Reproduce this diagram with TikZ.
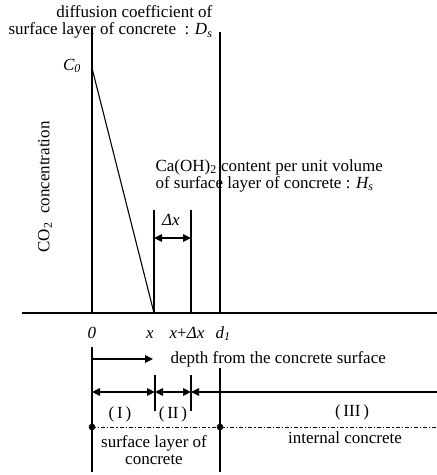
\documentclass[tikz,border=0pt]{standalone}
\usepackage{fontspec}
\setmainfont{Liberation Serif}
\usetikzlibrary{arrows.meta}

\begin{document}
\begin{tikzpicture}[
  x=1pt, y=-1pt,
  >={Triangle[length=8pt,width=7.5pt]},
  line width=1.2pt,
  lbl/.style={font=\fontsize{17}{17}\selectfont, inner sep=0pt},
  guide/.style={draw, line width=1.3pt},
  flow/.style={<->, draw, line width=1.2pt},
  zone/.style={draw, line width=0.9pt, dash pattern=on 4pt off 2pt on 1.2pt off 2pt}
]
  \useasboundingbox (0,0) rectangle (437,475);
  % points of the profile
  \coordinate (top0) at (92,28);
  \coordinate (c0) at (92,68);
  \coordinate (o) at (92,313);
  \coordinate (top1) at (220,32);
  \coordinate (d1) at (220,313);
  \coordinate (xa) at (154,313);
  \coordinate (xatop) at (154,210);
  \coordinate (xb) at (191,313);
  \coordinate (xbtop) at (191,210);
  \coordinate (axl) at (22,313);
  \coordinate (axr) at (437,313);
  \coordinate (dxl) at (154,238);
  \coordinate (dxr) at (191,238);
  % points of the lower part
  \coordinate (bot0) at (92,347);
  \coordinate (end0) at (92,472);
  \coordinate (bot1) at (220,368);
  \coordinate (end1) at (220,472);
  \coordinate (dep0) at (92,359);
  \coordinate (dep1) at (153,359);
  \coordinate (tka) at (155,375);
  \coordinate (tkaend) at (155,411);
  \coordinate (tkb) at (191,375);
  \coordinate (tkbend) at (191,411);
  \coordinate (r0) at (92,392);
  \coordinate (ra) at (155,392);
  \coordinate (rb) at (191,392);
  \coordinate (rr) at (437,392);
  \coordinate (z0) at (92,427);
  \coordinate (z1) at (220,427);
  \coordinate (zr) at (437,427);

  \draw[guide] (axl) -- (axr);
  \draw[guide] (top0) -- (o);
  \draw[guide] (top1) -- (d1);
  \draw[guide, line width=1.1pt] (c0) -- (xa);
  \draw[guide] (xatop) -- (xa);
  \draw[guide] (xbtop) -- (xb);
  \draw[flow] (dxl) -- (dxr);

  \draw[guide] (bot0) -- (end0);
  \draw[guide] (bot1) -- (end1);
  \draw[->, line width=1.2pt] (dep0) -- (dep1);
  \draw[guide] (tka) -- (tkaend);
  \draw[guide] (tkb) -- (tkbend);
  \draw[flow] (r0) -- (ra);
  \draw[flow] (ra) -- (rb);
  \draw[<-, line width=1.2pt] (rb) -- (rr);
  \draw[zone] (z0) -- (zr);
  \fill (z0) circle (3.3pt);
  \fill (z1) circle (3.3pt);

  % labels
  \node[lbl, anchor=south east, align=right] (dslab) at (213,39)
    {diffusion coefficient of\\surface layer of concrete\ \ : \textit{D\textsubscript{s}}};
  \node[lbl] (c0lab) at (72,66) {\textit{C\textsubscript{0}}};
  \node[lbl, rotate=90] (conc) at (45,187) {CO\textsubscript{2}\ \ concentration};
  \node[lbl, anchor=north west, align=left] (hslab) at (155,159)
    {Ca(OH)\textsubscript{2} content per unit volume\\of surface layer of concrete : \textit{H\textsubscript{s}}};
  \node[lbl] (dxlab) at (171,220) {\textit{Δx}};
  \node[lbl, anchor=base] (lab0) at (92,338) {\textit{0}};
  \node[lbl, anchor=base] (labx) at (150,338) {\textit{x}};
  \node[lbl, anchor=base] (labxb) at (187,338) {\textit{x}+\textit{Δx}};
  \node[lbl, anchor=base] (labd) at (223,338) {\textit{d\textsubscript{1}}};
  \node[lbl, anchor=base west] (deplab) at (170,363) {depth from the concrete surface};
  \node[lbl] (z1lab) at (120,414) {(\,I\,)};
  \node[lbl] (z2lab) at (173,414) {(\,II\,)};
  \node[lbl] (z3lab) at (352,412) {(\,III\,)};
  \node[lbl, align=center] (z12lab) at (154,450) {surface layer of\\concrete};
  \node[lbl] (z3name) at (345,438) {internal concrete};
\end{tikzpicture}
\end{document}
